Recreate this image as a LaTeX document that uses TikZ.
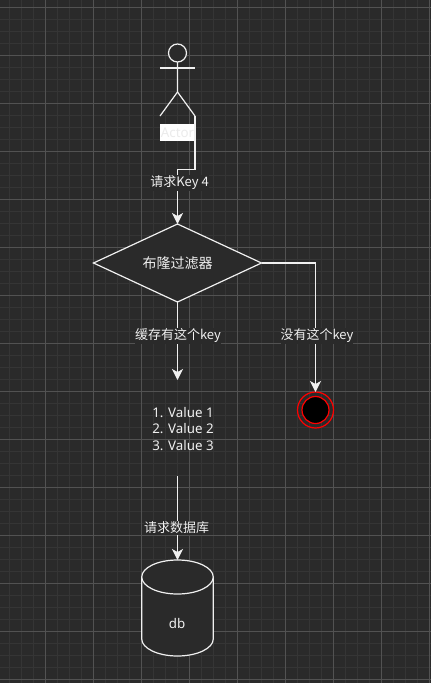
\documentclass[tikz,border=0pt]{standalone}
\usepackage{fontspec}
\setmainfont{Noto Sans}
\newfontfamily\cjk{Noto Sans CJK SC}
\usetikzlibrary{arrows.meta,shapes.geometric}
\definecolor{canvas}{HTML}{2A2A2A}
\definecolor{inkwhite}{HTML}{F0F0F0}
\tikzset{
  flow/.style={draw=inkwhite,line width=1.2pt,-{Stealth[length=11pt,width=11pt,inset=3pt]}},
  edgelabel/.style={fill=canvas,text=inkwhite,inner xsep=0pt,inner ysep=1pt,font=\fontsize{13}{16}\cjk},
  shapeline/.style={draw=inkwhite,line width=1.2pt,fill=canvas}
}
\begin{document}
\begin{tikzpicture}[x=1pt,y=-1pt,every node/.style={outer sep=0pt,inner sep=0pt,font=\fontsize{13.33}{16.5}\selectfont,text=inkwhite}]
\clip (0,0) rectangle (431,683);
\fill[canvas] (0,0) rectangle (431,683);
\draw[color=white!5!canvas,line width=1.5pt,step=12pt,shift={(9.5,7.5)}] (-24,-24) grid (444,696);
\draw[color=white!19!canvas,line width=1pt,step=48pt,shift={(45.5,7.5)}] (-96,-96) grid (432,720);
% actor
\node[circle,shapeline,minimum size=18pt] (head) at (177.5,53) {};
\coordinate (hip) at (177.5,92);
\coordinate (armL) at (160,68);
\coordinate (armR) at (195,68);
\coordinate (legL) at (160,116);
\coordinate (legR) at (195,116);
\draw[draw=inkwhite,line width=1.2pt] (head) -- (hip) -- (legL);
\draw[draw=inkwhite,line width=1.2pt] (hip) -- (legR);
\draw[draw=inkwhite,line width=1.2pt] (armL) -- (armR);
\node[fill=white,text=white!92!black,minimum width=35pt,minimum height=16.5pt] (actorlabel) at (177.5,132.5) {Actor};
% shapes
\node[diamond,shapeline,minimum width=168pt,minimum height=78pt,aspect=2.15,font=\fontsize{14}{16}\cjk] (bloom) at (177.5,263) {布隆过滤器};
\node[minimum width=72pt,minimum height=96pt] (values) at (177.5,428) {};
\node[align=left] (valuetext) at (183,429) {1. Value 1\\2. Value 2\\3. Value 3};
\node[minimum width=71.5pt,minimum height=96pt] (db) at (177.5,608) {};
\draw[shapeline] (141.75,577) -- (141.75,639) .. controls (141.75,648.4) and (158,656) .. (177.5,656) .. controls (197,656) and (213.25,648.4) .. (213.25,639) -- (213.25,577);
\draw[shapeline] (177.5,577) ellipse [x radius=35.75pt,y radius=17pt];
\node (dbtext) at (177,623) {db};
\node[circle,draw=red,line width=1.2pt,minimum size=36pt] (endouter) at (315.5,410) {};
\node[circle,draw=red,fill=black,line width=1.2pt,minimum size=27pt] (endinner) at (315.5,410) {};
% connectors
\draw[flow] (legR) -- (195,169.5) -- (177.5,169.5) -- (bloom.north);
\draw[flow] (bloom.south) -- (values.north);
\draw[flow] (bloom.east) -- (315.5,263) -- (endouter.north);
\draw[flow] (values.south) -- (db.north);
% labels
\node[edgelabel] (keylabel) at (179.5,183) {请求Key 4};
\node[edgelabel] (hitlabel) at (178,336) {缓存有这个key};
\node[edgelabel] (misslabel) at (317,336) {没有这个key};
\node[edgelabel] (dblabel) at (176.5,528) {请求数据库};
\end{tikzpicture}
\end{document}
